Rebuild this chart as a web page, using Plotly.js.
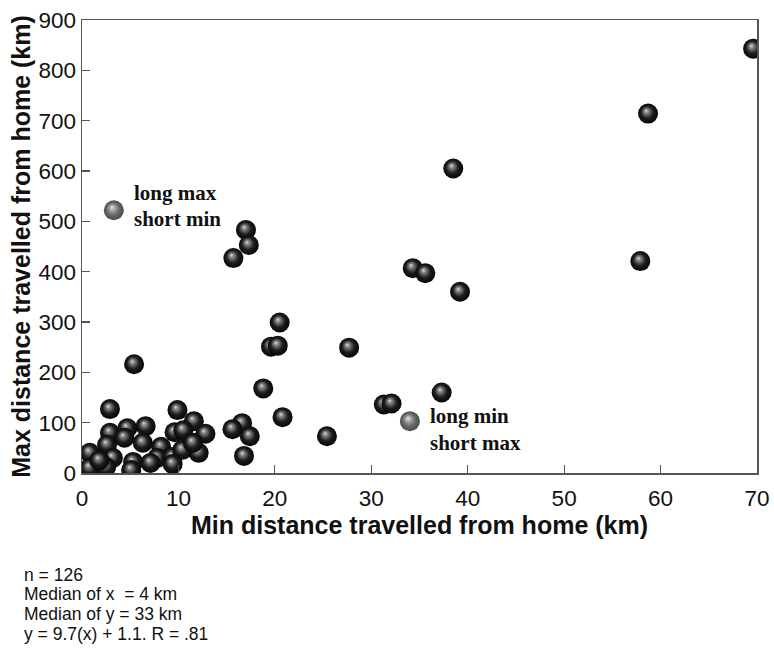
<!DOCTYPE html>
<html>
<head>
<meta charset="utf-8">
<script src="https://cdn.plot.ly/plotly-3.0.1.min.js"></script>
<style>html,body{margin:0;padding:0;background:#fff;}#chart{width:774px;height:650px;}</style>
</head>
<body>
<div id="chart"></div>
<script>
// Min distance travelled from home (km) for each individual
const minDist = [69.6, 58.7, 38.5, 57.9, 34.3, 35.6, 39.2,
  17.0, 17.3, 15.7, 20.5, 19.6, 20.3, 27.7,
  5.4, 18.8, 37.3, 31.3, 32.1, 2.9, 9.9,
  20.8, 25.4, 16.6, 15.6, 17.4, 16.8, 11.6, 12.8, 6.6,
  2.9, 4.7, 9.6, 10.5, 4.4, 6.3, 8.2, 2.6, 0.8, 3.2,
  5.3, 7.8, 9.4, 12.1, 10.4, 0.8, 2.5, 5.1, 9.4, 7.1,
  1.8, 11.5];
// Max distance travelled from home (km)
const maxDist = [843, 714, 605, 421, 407, 397, 360,
  483, 453, 427, 299, 251, 253, 249,
  216, 168, 160, 136, 138, 127, 125,
  111, 73, 99, 87, 73, 34, 103, 78, 93,
  80, 89, 81, 85, 70, 60, 52, 56, 40, 30,
  22, 30, 32, 40, 46, 10, 12, 6, 18, 20,
  25, 60];
// Highlighted outliers
const outlierMin = [3.3, 34.0];
const outlierMax = [522, 103];
const outlierLine1 = ["long max", "long min"];
const outlierLine2 = ["short min", "short max"];
const xTicks = [0, 10, 20, 30, 40, 50, 60, 70];
const yTicks = [0, 100, 200, 300, 400, 500, 600, 700, 800, 900];
const statsLines = ["n = 126", "Median of x  = 4 km", "Median of y = 33 km", "y = 9.7(x) + 1.1. R = .81"];

const frameColor = '#555';
const data = [
  {x: minDist, y: maxDist, type: 'scatter', mode: 'markers', hoverinfo: 'x+y',
   marker: {size: 20, color: '#000', gradient: {type: 'radial', color: '#ddd'}, line: {width: 0}}},
  {x: outlierMin, y: outlierMax, type: 'scatter', mode: 'markers', hoverinfo: 'x+y',
   marker: {size: 20, color: '#444', gradient: {type: 'radial', color: '#eee'}, line: {width: 0}}}
];

const serif = {family: 'Liberation Serif, Times New Roman, serif', size: 21, color: '#111'};
const line1Shift = [17, 5];
const line2Shift = [-9, -22];
const annotations = [];
outlierMin.forEach((xv, i) => {
  annotations.push({x: xv, y: outlierMax[i], xref: 'x', yref: 'y', xshift: 18, yshift: line1Shift[i],
    text: '<b>' + outlierLine1[i] + '</b>', showarrow: false, xanchor: 'left', yanchor: 'middle', font: serif});
  annotations.push({x: xv, y: outlierMax[i], xref: 'x', yref: 'y', xshift: 18, yshift: line2Shift[i],
    text: '<b>' + outlierLine2[i] + '</b>', showarrow: false, xanchor: 'left', yanchor: 'middle', font: serif});
});
const statsShift = [-102, -121, -141, -161];
statsLines.forEach((t, i) => {
  annotations.push({
    x: 0, y: 0, xref: 'paper', yref: 'paper', xshift: -60, yshift: statsShift[i],
    xanchor: 'left', yanchor: 'middle', align: 'left', showarrow: false, text: t,
    font: {family: 'Liberation Sans, Arial, sans-serif', size: 17.5, color: '#111'}
  });
});

const axisCommon = {
  showgrid: false, zeroline: false, showline: true, mirror: true,
  linecolor: frameColor, linewidth: 1.5, ticks: 'inside', ticklen: 8, tickwidth: 1.2, tickcolor: frameColor,
  tickfont: {family: 'Liberation Sans, Arial, sans-serif', size: 22.5, color: '#111'},
  tickmode: 'array', fixedrange: true
};
const titleFont = {family: 'Liberation Sans, Arial, sans-serif', size: 25, color: '#111'};

const layout = {
  width: 774, height: 650,
  margin: {l: 82, r: 17, t: 20, b: 177},
  paper_bgcolor: '#fff', plot_bgcolor: '#fff',
  showlegend: false,
  xaxis: Object.assign({}, axisCommon, {
    range: [0, 70], tickvals: xTicks, ticktext: xTicks.map(String), ticklabelstandoff: 4,
    title: {text: '<b>Min distance travelled from home (km)</b>', standoff: 2, font: titleFont}
  }),
  yaxis: Object.assign({}, axisCommon, {
    range: [0, 900], tickvals: yTicks, ticktext: yTicks.map(String),
    title: {text: '<b>Max distance travelled from home (km)</b>', standoff: 0, font: titleFont}
  }),
  annotations: annotations
};

Plotly.newPlot('chart', data, layout, {displayModeBar: false, staticPlot: true}).then(gd => {
  // shape the sphere shading: small highlight towards the upper-left, dark body
  gd.querySelectorAll('radialGradient').forEach(g => {
    const stops = g.querySelectorAll('stop');
    if (stops.length < 2) return;
    const c0 = stops[0].getAttribute('stop-color');
    const c1 = stops[stops.length - 1].getAttribute('stop-color');
    const inner = c0 === '#000' || c0 === 'rgb(0, 0, 0)' ? c1 : c0;
    const outer = inner === c0 ? c1 : c0;
    const outerIsDark = outer.indexOf('0, 0, 0') >= 0 || outer === '#000';
    while (g.firstChild) g.removeChild(g.firstChild);
    const mk = (off, col) => {
      const s = document.createElementNS('http://www.w3.org/2000/svg', 'stop');
      s.setAttribute('offset', off); s.setAttribute('stop-color', col); g.appendChild(s);
    };
    mk('0%', inner);
    mk('18%', outerIsDark ? '#8a8a8a' : '#b5b5b5');
    mk('55%', outerIsDark ? '#1e1e1e' : '#6a6a6a');
    mk('100%', outer);
    g.setAttribute('cx', '0.5'); g.setAttribute('cy', '0.5'); g.setAttribute('r', '0.55');
    g.setAttribute('fx', '0.4'); g.setAttribute('fy', '0.35');
  });
});
</script>
</body>
</html>
